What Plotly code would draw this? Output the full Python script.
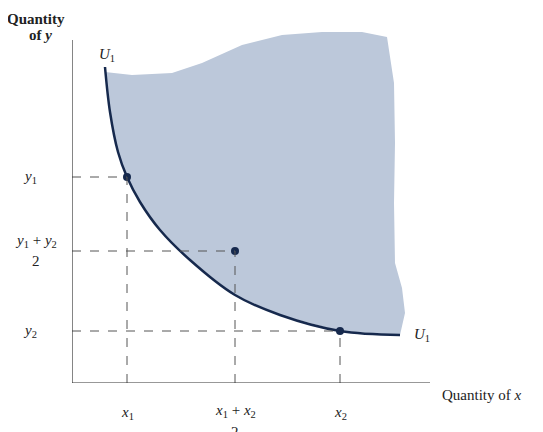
import plotly.graph_objects as go

# data coords: x = px-72, y = 381-py
curve_x = [33, 38, 46, 55, 68, 88, 118, 163, 208, 268, 328]
curve_y = [316, 271, 231, 206, 181, 153, 123, 88, 68, 52, 48]
top_x = [33, 60, 100, 130, 170, 210, 250, 290, 315, 322, 323, 322, 323, 330, 333, 328]
top_y = [311, 308, 310, 320, 338, 348, 351, 351, 346, 300, 240, 180, 120, 95, 70, 48]
pts_x = [55, 163, 268]
pts_y = [206, 132, 52]
navy = "#16294d"
XR, YR = 468, 355
fig = go.Figure()
fig.add_trace(go.Scatter(x=curve_x + top_x[::-1], y=curve_y + top_y[::-1], fill="toself",
                         fillcolor="#bcc8da", line=dict(width=0), mode="lines", hoverinfo="skip"))
fig.add_trace(go.Scatter(x=curve_x, y=curve_y, mode="lines", line=dict(color=navy, width=2.5, shape="spline")))
for x, y in zip(pts_x, pts_y):
    fig.add_shape(type="line", x0=x, x1=x, y0=0, y1=y, line=dict(color="#555", width=1, dash="dash"))
    fig.add_shape(type="line", x0=0, x1=x, y0=y, y1=y, line=dict(color="#555", width=1, dash="dash"))
fig.add_trace(go.Scatter(x=pts_x, y=pts_y, mode="markers", marker=dict(color=navy, size=8)))
fig.add_shape(type="line", x0=0, x1=358, y0=0, y1=0, line=dict(color="#333", width=1.2))
fig.add_shape(type="line", x0=0, x1=0, y0=0, y1=343, line=dict(color="#333", width=1.2))
f = dict(family="Liberation Serif", size=15, color="#222")
ann = [
    (-36, 364, "<b>Quantity</b>"), (-32, 348, "<b>of <i>y</i></b>"),
    (410, -12, "Quantity of <i>x</i>"),
    (35, 328, "<i>U</i><sub>1</sub>"), (350, 48, "<i>U</i><sub>1</sub>"),
    (-42, 206, "<i>y</i><sub>1</sub>"), (-42, 52, "<i>y</i><sub>2</sub>"),
    (55, -30, "<i>x</i><sub>1</sub>"), (268, -30, "<i>x</i><sub>2</sub>"),
    (-36, 142, "<i>y</i><sub>1</sub> + <i>y</i><sub>2</sub>"), (-36, 122, "2"),
    (163, -28, "<i>x</i><sub>1</sub> + <i>x</i><sub>2</sub>"), (163, -49, "2"),
]
for x, y, t in ann:
    fig.add_annotation(x=x / XR, y=y / YR, xref="paper", yref="paper", text=t,
                       showarrow=False, font=f, xanchor="center", yanchor="middle")
fig.add_shape(type="line", x0=-62, x1=-10, y0=132, y1=132, line=dict(color="#222", width=1))
fig.add_shape(type="line", x0=137, x1=189, y0=-39, y1=-39, line=dict(color="#222", width=1))
fig.update_layout(width=543, height=432, margin=dict(l=64, r=11, t=20, b=57),
                  showlegend=False, plot_bgcolor="white", paper_bgcolor="white",
                  xaxis=dict(range=[0, XR], visible=False),
                  yaxis=dict(range=[0, YR], visible=False))
fig.write_html("out.html")
